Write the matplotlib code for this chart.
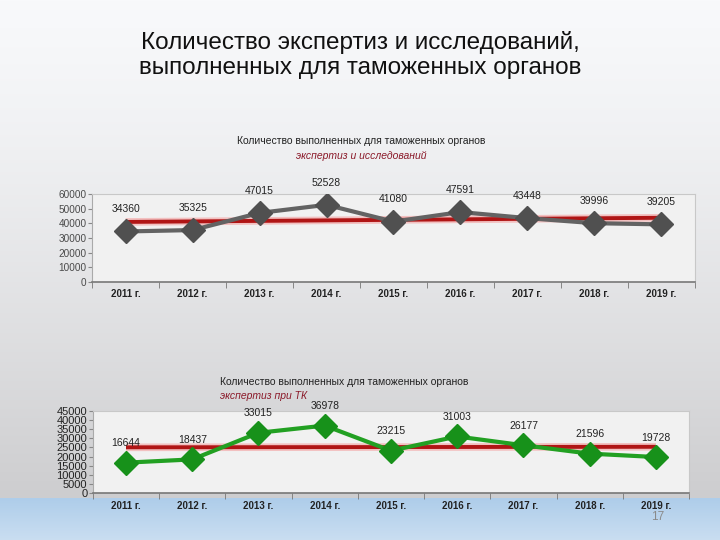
import matplotlib.pyplot as plt
import matplotlib.colors as mcolors
import numpy as np

# data
years = ["2011 г.", "2012 г.", "2013 г.", "2014 г.", "2015 г.", "2016 г.", "2017 г.", "2018 г.", "2019 г."]
all_exp = [34360, 35325, 47015, 52528, 41080, 47591, 43448, 39996, 39205]
tk_exp = [16644, 18437, 33015, 36978, 23215, 31003, 26177, 21596, 19728]

narrow = ["Liberation Sans Narrow", "Liberation Sans", "DejaVu Sans"]
plt.rcParams["font.family"] = ["Liberation Sans", "DejaVu Sans"]

fig = plt.figure(figsize=(7.2, 5.4), dpi=100)

# slide background: light gray gradient + blue band at the bottom
bg = fig.add_axes([0, 0, 1, 1], zorder=-10)
bg.set_axis_off()
h = 540
rows = np.zeros((h, 1, 3))
top_c = np.array(mcolors.to_rgb("#f8f9fb"))
gray_c = np.array(mcolors.to_rgb("#cdcdcf"))
blue1 = np.array(mcolors.to_rgb("#aecdea"))
blue2 = np.array(mcolors.to_rgb("#cadef1"))
for i in range(h):
    if i < 498:
        t = i / 498
        rows[i, 0] = top_c * (1 - t ** 1.3) + gray_c * t ** 1.3
    else:
        t = (i - 498) / (h - 498)
        rows[i, 0] = blue1 * (1 - t) + blue2 * t
bg.imshow(rows, aspect="auto", extent=[0, 1, 0, 1])
bg.set_xlim(0, 1)
bg.set_ylim(0, 1)

fig.text(0.5, 0.898, "Количество экспертиз и исследований,\nвыполненных для таможенных органов",
         ha="center", va="center", fontsize=17.5, family=narrow, color="#111111",
         linespacing=1.2)


def draw_chart(rect, vals, ymax, step, line_c, marker_c, msize, off, ylab_style, xpad):
    ax = fig.add_axes(rect)
    x = np.arange(len(vals))
    ax.set_facecolor("#f1f1f1")
    # linear trend
    k, b = np.polyfit(x, vals, 1)
    trend = k * x + b
    ax.plot(x, trend, color="#f4a0a0", lw=5.5, alpha=0.6, zorder=2, solid_capstyle="butt")
    ax.plot(x, trend, color="#b01515", lw=2.8, zorder=3, solid_capstyle="butt")
    ax.plot(x, vals, color=line_c, lw=3, zorder=4)
    ax.plot(x, vals, ls="none", marker="D", ms=msize, color=marker_c, zorder=5)
    for xi, v in zip(x, vals):
        ax.annotate(f"{v}", (xi, v), xytext=(0, off), textcoords="offset points",
                    ha="center", va="center", fontsize=7.5, color="#222222",
                    family=narrow, annotation_clip=False, zorder=6)
    ax.set_xlim(-0.5, len(vals) - 0.5)
    ax.set_ylim(0, ymax)
    ax.set_yticks(np.arange(0, ymax + 1, step))
    ax.set_xticks(x)
    ax.set_xticklabels(years, fontsize=7, fontweight="bold", color="#222222")
    ax.set_xticks(np.arange(-0.5, len(vals), 1), minor=True)
    ax.tick_params(axis="x", which="major", length=0, pad=xpad)
    ax.tick_params(axis="x", which="minor", length=4, color="#777777", direction="out")
    ax.tick_params(axis="y", length=3, color="#888888", pad=1, **ylab_style)
    for s in ["top", "right"]:
        ax.spines[s].set_color("#c8c8c8")
        ax.spines[s].set_linewidth(0.8)
    ax.spines["left"].set_color("#aaaaaa")
    ax.spines["bottom"].set_color("#777777")
    ax.spines["bottom"].set_linewidth(1.2)
    for lab in ax.get_yticklabels():
        lab.set_family(narrow)
    return ax


top_ax = draw_chart([0.128, 0.478, 0.837, 0.163], all_exp, 60000, 10000,
                    "#636363", "#505050", 12, 16,
                    dict(labelsize=7.2, labelcolor="#4a4a4a"), 5)

bot_ax = draw_chart([0.129, 0.087, 0.828, 0.152], tk_exp, 45000, 5000,
                    "#22a022", "#17911a", 12.5, 14,
                    dict(labelsize=8, labelcolor="#222222"), 6)

# chart captions
fig.text(0.502, 0.739, "Количество выполненных для таможенных органов",
         ha="center", va="center", fontsize=7.5, color="#222222")
fig.text(0.502, 0.711, "экспертиз и исследований", ha="center", va="center",
         fontsize=7.5, style="italic", color="#8b1a2a")
fig.text(0.305, 0.292, "Количество выполненных для таможенных органов",
         ha="left", va="center", fontsize=7.5, color="#222222")
fig.text(0.305, 0.267, "экспертиз при ТК", ha="left", va="center",
         fontsize=7.5, style="italic", color="#8b1a2a")

fig.text(0.913, 0.042, "17", ha="center", va="center", fontsize=8.5, color="#8a8a8a")

fig.savefig("out.png", dpi=100)
